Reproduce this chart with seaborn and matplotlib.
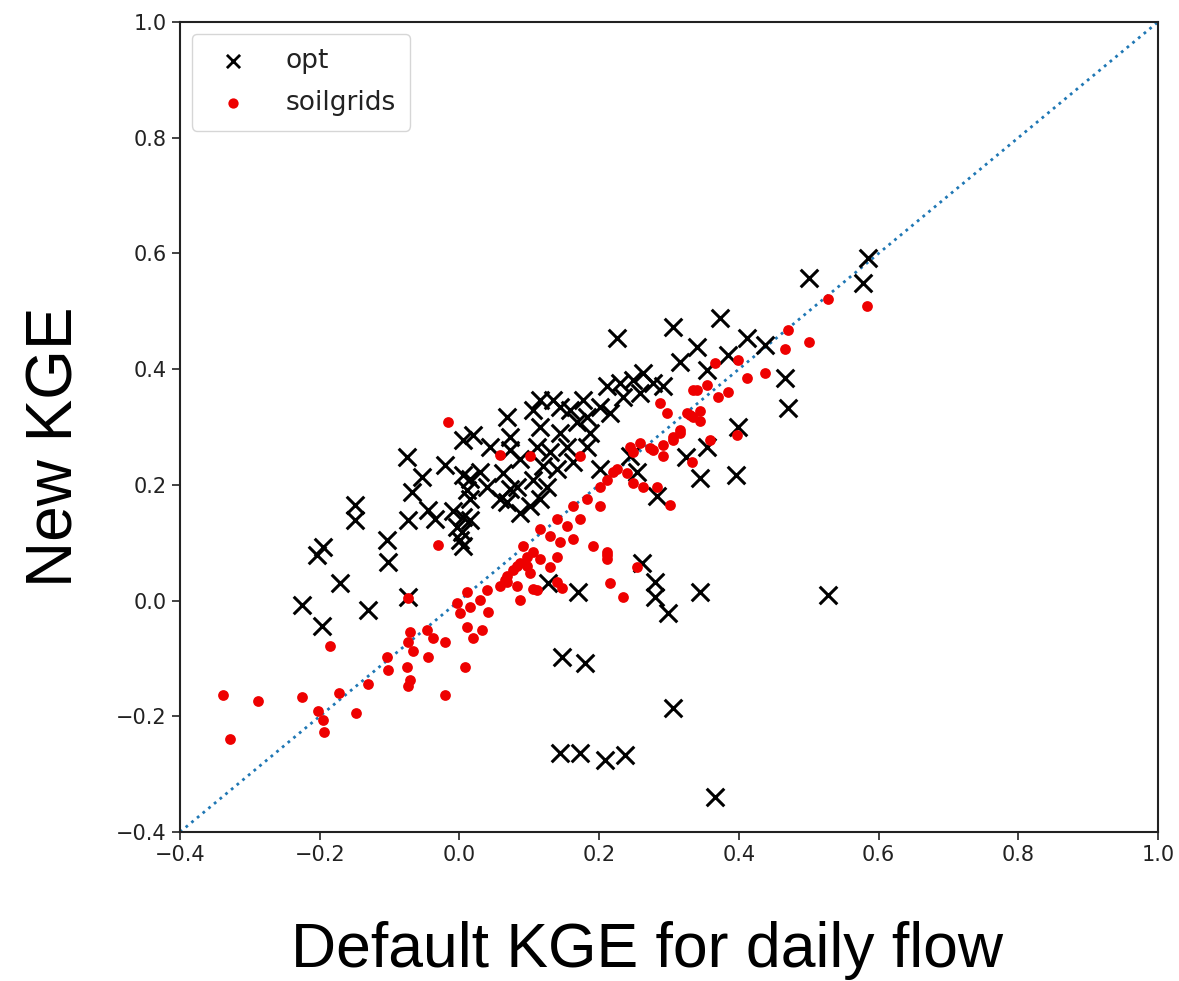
import numpy as np
import pandas as pd
import seaborn as sns
import matplotlib
matplotlib.use("Agg")
import matplotlib.pyplot as plt

# ---- data: opt (black x) ----
opt_x = [0.585, 0.578, 0.500, 0.373, 0.306, 0.226, 0.412, 0.437, 0.340, 0.316,
         0.384, 0.354, 0.466, 0.470, 0.399, 0.354, 0.396, 0.344, 0.324,
         0.261, 0.280, 0.280, 0.299, 0.344, 0.528, 0.127, 0.170, 0.147, 0.180,
         0.306, 0.144, 0.173, 0.208, 0.237, 0.366,
         -0.149, -0.149, -0.204, -0.195, -0.171, -0.102, -0.104, -0.225, -0.197,
         -0.131, -0.074, -0.075, -0.054, -0.068, -0.074, -0.045, -0.021, 0.005,
         0.019, 0.005, 0.011, 0.005, 0.001, -0.003,
         -0.035, 0.015, 0.029, 0.015, -0.009, 0.015, 0.004, 0.005, 0.039, 0.044,
         0.068, 0.072, 0.072, 0.062, 0.072, 0.068, 0.087, 0.105, 0.115, 0.134,
         0.115, 0.111, 0.130, 0.120, 0.105, 0.125, 0.115, 0.101, 0.144, 0.158,
         0.177, 0.182, 0.168, 0.187, 0.144, 0.154, 0.182, 0.201, 0.215, 0.211,
         0.230, 0.248, 0.263, 0.277, 0.291, 0.258, 0.234, 0.087, 0.058, 0.082,
         0.140, 0.163, 0.201, 0.244, 0.254, 0.283]
opt_y = [0.592, 0.549, 0.558, 0.488, 0.473, 0.454, 0.454, 0.442, 0.438, 0.412,
         0.424, 0.399, 0.385, 0.333, 0.300, 0.265, 0.217, 0.212, 0.248,
         0.065, 0.032, 0.006, -0.021, 0.015, 0.010, 0.030, 0.015, -0.097, -0.108,
         -0.185, -0.263, -0.263, -0.275, -0.267, -0.339,
         0.165, 0.139, 0.079, 0.093, 0.030, 0.067, 0.105, -0.008, -0.044,
         -0.016, 0.006, 0.248, 0.214, 0.188, 0.139, 0.157, 0.235, 0.278,
         0.287, 0.217, 0.191, 0.145, 0.105, 0.127,
         0.141, 0.210, 0.222, 0.176, 0.154, 0.140, 0.118, 0.094, 0.197, 0.266,
         0.318, 0.283, 0.261, 0.221, 0.192, 0.170, 0.152, 0.330, 0.347, 0.347,
         0.300, 0.266, 0.256, 0.232, 0.209, 0.197, 0.175, 0.163, 0.335, 0.330,
         0.347, 0.318, 0.308, 0.290, 0.290, 0.266, 0.266, 0.335, 0.325, 0.370,
         0.376, 0.382, 0.394, 0.376, 0.370, 0.359, 0.352, 0.244, 0.175, 0.197,
         0.227, 0.239, 0.227, 0.249, 0.222, 0.180]

# ---- data: soilgrids (red dots) ----
soil_x = [-0.338, -0.328, -0.288, -0.226, -0.186, -0.203, -0.196, -0.194, -0.172,
          -0.148, -0.131, -0.104, -0.102, -0.075, -0.074, -0.071, -0.066, -0.071,
          -0.074, -0.046, -0.038, -0.045, -0.020, -0.020, 0.008, 0.001, -0.003,
          0.015, 0.029, 0.039, 0.041, 0.011, 0.019, 0.032, 0.065, 0.077, 0.087,
          0.097, 0.087, -0.074, -0.016, -0.031,
          0.068, 0.111, 0.147, 0.215, 0.234, 0.254, 0.211, 0.130, 0.140, 0.101,
          0.058, 0.101, 0.173, 0.244, 0.258, 0.277, 0.291, 0.306, 0.316, 0.287,
          0.297, 0.335, 0.326, 0.335, 0.333, 0.220, 0.240, 0.211, 0.248, 0.263,
          0.283, 0.301, 0.201, 0.182, 0.201, 0.163, 0.173, 0.154, 0.140, 0.130,
          0.115, 0.144, 0.163, 0.191, 0.211, 0.211, 0.105, 0.091, 0.115, 0.097,
          0.082, 0.068, 0.082, 0.105, 0.140, 0.058, 0.011,
          0.528, 0.583, 0.470, 0.500, 0.466, 0.437, 0.412, 0.399, 0.366, 0.384,
          0.370, 0.354, 0.340, 0.344, 0.330, 0.344, 0.316, 0.306, 0.291, 0.273,
          0.248, 0.359, 0.397, 0.226]
soil_y = [-0.163, -0.239, -0.173, -0.166, -0.078, -0.191, -0.206, -0.227, -0.159,
          -0.194, -0.145, -0.097, -0.120, -0.115, -0.147, -0.137, -0.088, -0.054,
          -0.071, -0.051, -0.065, -0.097, -0.071, -0.163, -0.115, -0.021, -0.004,
          -0.011, 0.001, 0.018, -0.020, -0.046, -0.065, -0.051, 0.036, 0.053, 0.065,
          0.076, 0.001, 0.005, 0.308, 0.096,
          0.032, 0.018, 0.022, 0.031, 0.006, 0.058, 0.079, 0.058, 0.076, 0.048,
          0.252, 0.249, 0.249, 0.266, 0.273, 0.261, 0.249, 0.278, 0.290, 0.342,
          0.325, 0.364, 0.325, 0.318, 0.240, 0.223, 0.221, 0.209, 0.204, 0.197,
          0.197, 0.166, 0.197, 0.175, 0.164, 0.164, 0.141, 0.129, 0.141, 0.111,
          0.123, 0.101, 0.106, 0.094, 0.084, 0.072, 0.084, 0.094, 0.072, 0.060,
          0.060, 0.043, 0.025, 0.020, 0.032, 0.025, 0.015,
          0.521, 0.509, 0.468, 0.447, 0.435, 0.394, 0.385, 0.416, 0.411, 0.361,
          0.352, 0.373, 0.364, 0.328, 0.320, 0.311, 0.294, 0.283, 0.268, 0.263,
          0.256, 0.278, 0.287, 0.227]

axis_lim = [-0.4, 1.0]
ticks = [-0.4, -0.2, 0.0, 0.2, 0.4, 0.6, 0.8, 1.0]

sns.set_style("ticks")
plt.rcParams['font.family'] = ['DejaVu Sans']

fig = plt.figure(figsize=(11.79, 9.81), dpi=100)
ax = fig.add_axes([0.1527, 0.1519, 0.8295, 0.8257])

df_opt = pd.DataFrame({"x": opt_x, "y": opt_y})
df_soil = pd.DataFrame({"x": soil_x, "y": soil_y})

sns.scatterplot(data=df_opt, x="x", y="y", marker="x", color="black",
                s=160, linewidth=2.2, label="opt", ax=ax, zorder=3)
sns.scatterplot(data=df_soil, x="x", y="y", marker="o", color="#ee0000",
                s=60, linewidth=0, label="soilgrids", ax=ax, zorder=3)
sns.lineplot(x=axis_lim, y=axis_lim, ax=ax, linestyle=":", linewidth=2,
             color="#1f77b4", zorder=2)

ax.set_xlim(axis_lim)
ax.set_ylim(axis_lim)
ax.set_xticks(ticks)
ax.set_yticks(ticks)
ax.tick_params(labelsize=15, width=1.2, length=6, color="#222222", labelcolor="#222222")
for sp in ax.spines.values():
    sp.set_linewidth(1.5)
    sp.set_color("#222222")
    sp.set_visible(True)

ax.set_xlabel("Default KGE for daily flow", fontsize=45, family="Liberation Sans",
              labelpad=40, color="black")
ax.set_ylabel("New KGE", fontsize=46, family="Liberation Sans", labelpad=22,
              color="black")
ax.xaxis.label.set_x(0.4775)
ax.yaxis.label.set_y(0.475)

leg = ax.legend(loc="upper left", fontsize=19, frameon=True,
                borderpad=0.55, handletextpad=1.0, labelspacing=0.6,
                handlelength=2.0, borderaxespad=0.45)
leg.get_frame().set_edgecolor("#cccccc")
leg.legend_handles[0].set_sizes([90])
leg.legend_handles[0].set_linewidth(2.0)
leg.legend_handles[1].set_sizes([55])
for t in leg.get_texts():
    t.set_color("#222222")

fig.savefig("out.png", dpi=100)
